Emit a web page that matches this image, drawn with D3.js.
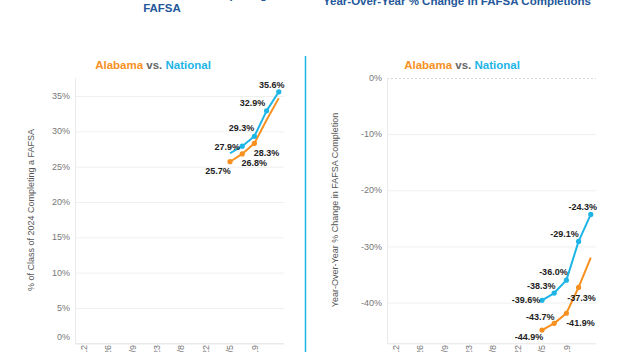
<!DOCTYPE html>
<html lang="en">

<head>
    <meta charset="UTF-8">
    <title>FAFSA completions</title>
    <script src="https://d3js.org/d3.v7.min.js"></script>
    <style>
        body {
            margin: 0;
            background: #fff;
            font-family: "Liberation Sans", Arial, sans-serif;
        }

        svg {
            display: block;
        }
    </style>
</head>

<body>
    <svg id="chart" width="621" height="352"></svg>

    <script>
        // weekly data points and axis ticks
        const weeks = ["2024-04-05", "2024-04-12", "2024-04-19", "2024-04-26", "2024-05-03"];
        const tickDates = ["2024-01-12", "2024-01-26", "2024-02-09", "2024-02-23", "2024-03-08", "2024-03-22", "2024-04-05", "2024-04-19"];
        const tickLabels = ["1/12", "1/26", "2/9", "2/23", "3/8", "3/22", "4/5", "4/19"];

        // % of class of 2024 completing a FAFSA
        const alabamaShare = [25.7, 26.8, 28.3, 31.6, 34.7];
        const nationalShare = [26.9, 27.9, 29.3, 32.9, 35.6];

        // year-over-year % change in completions
        const alabamaYoY = [-44.9, -43.7, -41.9, -37.3, -32.0];
        const nationalYoY = [-39.6, -38.3, -36.0, -29.1, -24.3];

        const shareTicks = [0, 5, 10, 15, 20, 25, 30, 35];
        const yoyTicks = [0, -10, -20, -30, -40];

        const orange = "#f7901e";
        const blue = "#1db5e6";
        const titleBlue = "#25589a";

        const parse = d3.timeParse("%Y-%m-%d");
        const svg = d3.select("#chart");

        // titles (top of the dashboard is cut off)
        svg.append("text")
            .attr("x", 162).attr("y", -1)
            .attr("text-anchor", "middle")
            .style("font-size", "11.5px").style("font-weight", "bold")
            .style("fill", titleBlue)
            .text("Percent of the Class of 2024 Completing a");
        svg.append("text")
            .attr("x", 162).attr("y", 12)
            .attr("text-anchor", "middle")
            .style("font-size", "11.5px").style("font-weight", "bold")
            .style("fill", titleBlue)
            .text("FAFSA");
        svg.append("text")
            .attr("x", 457).attr("y", 5)
            .attr("text-anchor", "middle")
            .style("font-size", "11.5px").style("font-weight", "bold")
            .style("fill", titleBlue)
            .text("Year-Over-Year % Change in FAFSA Completions");

        // separator
        svg.append("line")
            .attr("x1", 305.5).attr("x2", 305.5)
            .attr("y1", 56).attr("y2", 352)
            .style("stroke", blue).style("stroke-width", 1.5);

        function panel(opts) {
            const g = svg.append("g");
            const x = d3.scaleTime()
                .domain([parse("2024-01-07"), parse("2024-05-06")])
                .range([opts.left, opts.left + 209]);
            const y = d3.scaleLinear()
                .domain(opts.domain)
                .range([343.3, 78]);

            // subtitle
            const sub = g.append("text")
                .attr("x", opts.subX).attr("y", 69)
                .attr("text-anchor", "middle")
                .style("font-size", "11.5px").style("font-weight", "bold");
            sub.append("tspan").style("fill", orange).text("Alabama");
            sub.append("tspan").style("fill", "#666").text(" vs. ");
            sub.append("tspan").style("fill", blue).text("National");

            // gridlines
            g.selectAll(".grid")
                .data(opts.ticks)
                .join("line")
                .attr("x1", opts.left).attr("x2", opts.left + 209)
                .attr("y1", d => y(d) + 0.5).attr("y2", d => y(d) + 0.5)
                .style("stroke", d => d === 0 && opts.dashZero ? "#d8d8d8" : "#efefef")
                .style("stroke-dasharray", d => d === 0 && opts.dashZero ? "2,2" : null);

            // axis frame
            g.append("line")
                .attr("x1", opts.left + 0.5).attr("x2", opts.left + 0.5)
                .attr("y1", 78).attr("y2", 343.3)
                .style("stroke", "#eaeaea");
            g.append("line")
                .attr("x1", opts.left).attr("x2", opts.left + 209)
                .attr("y1", 343.8).attr("y2", 343.8)
                .style("stroke", "#e6e6e6");

            // y tick labels
            g.selectAll(".ytick")
                .data(opts.ticks)
                .join("text")
                .attr("x", opts.left - 5)
                .attr("y", d => Math.min(y(d), 337))
                .attr("dy", "0.35em")
                .attr("text-anchor", "end")
                .style("font-size", "9px").style("fill", "#777")
                .text(d => d + "%");

            // x tick labels (rotated, cut at the bottom)
            g.selectAll(".xtick")
                .data(tickDates)
                .join("text")
                .attr("transform", d => `translate(${x(parse(d))},345) rotate(-90)`)
                .attr("dy", "0.35em")
                .attr("text-anchor", "end")
                .style("font-size", "9px").style("fill", "#777")
                .text((d, i) => tickLabels[i]);

            // y axis title
            g.append("text")
                .attr("transform", `translate(${opts.titleX},${opts.titleY}) rotate(-90)`)
                .attr("text-anchor", "middle")
                .style("font-size", "9px").style("fill", "#555")
                .text(opts.yTitle);

            const line = d3.line()
                .x((d, i) => x(parse(weeks[i])))
                .y(d => y(d));

            opts.series.forEach(s => {
                g.append("path")
                    .datum(s.values)
                    .attr("d", line)
                    .style("fill", "none")
                    .style("stroke", s.color)
                    .style("stroke-width", 2)
                    .style("stroke-linejoin", "round");

                g.selectAll(null)
                    .data(s.marked)
                    .join("circle")
                    .attr("cx", i => x(parse(weeks[i])))
                    .attr("cy", i => y(s.values[i]))
                    .attr("r", 2.6)
                    .style("fill", s.color);

                g.selectAll(null)
                    .data(s.marked)
                    .join("text")
                    .attr("x", (i, k) => x(parse(weeks[i])) + s.offsets[k][0])
                    .attr("y", (i, k) => y(s.values[i]) + s.offsets[k][1])
                    .attr("dy", "0.35em")
                    .attr("text-anchor", "middle")
                    .style("font-size", "9px").style("font-weight", "bold")
                    .style("fill", "#222")
                    .text(i => s.values[i].toFixed(1) + "%");
            });
        }

        panel({
            left: 75,
            domain: [0, 37.55],
            ticks: shareTicks,
            subX: 153,
            titleX: 34, titleY: 210,
            yTitle: "% of Class of 2024 Completing a FAFSA",
            series: [
                { values: alabamaShare, color: orange, marked: [0, 1, 2],
                  offsets: [[-12, 9], [12, 9], [12, 9]] },
                { values: nationalShare, color: blue, marked: [1, 2, 3, 4],
                  offsets: [[-15, 1], [-13, -8], [-14, -8], [-7, -7]] }
            ]
        });

        panel({
            left: 387,
            domain: [-47.25, 0],
            ticks: yoyTicks,
            dashZero: true,
            subX: 462,
            titleX: 338, titleY: 210,
            yTitle: "Year-Over-Year % Change in FAFSA Completion",
            series: [
                { values: alabamaYoY, color: orange, marked: [0, 1, 2, 3],
                  offsets: [[-13, 7], [-14, -7], [14, 10], [3, 10]] },
                { values: nationalYoY, color: blue, marked: [0, 1, 2, 3, 4],
                  offsets: [[-16, 0], [-13, -7], [-13, -8], [-14, -8], [-8, -8]] }
            ]
        });
    </script>
</body>

</html>
